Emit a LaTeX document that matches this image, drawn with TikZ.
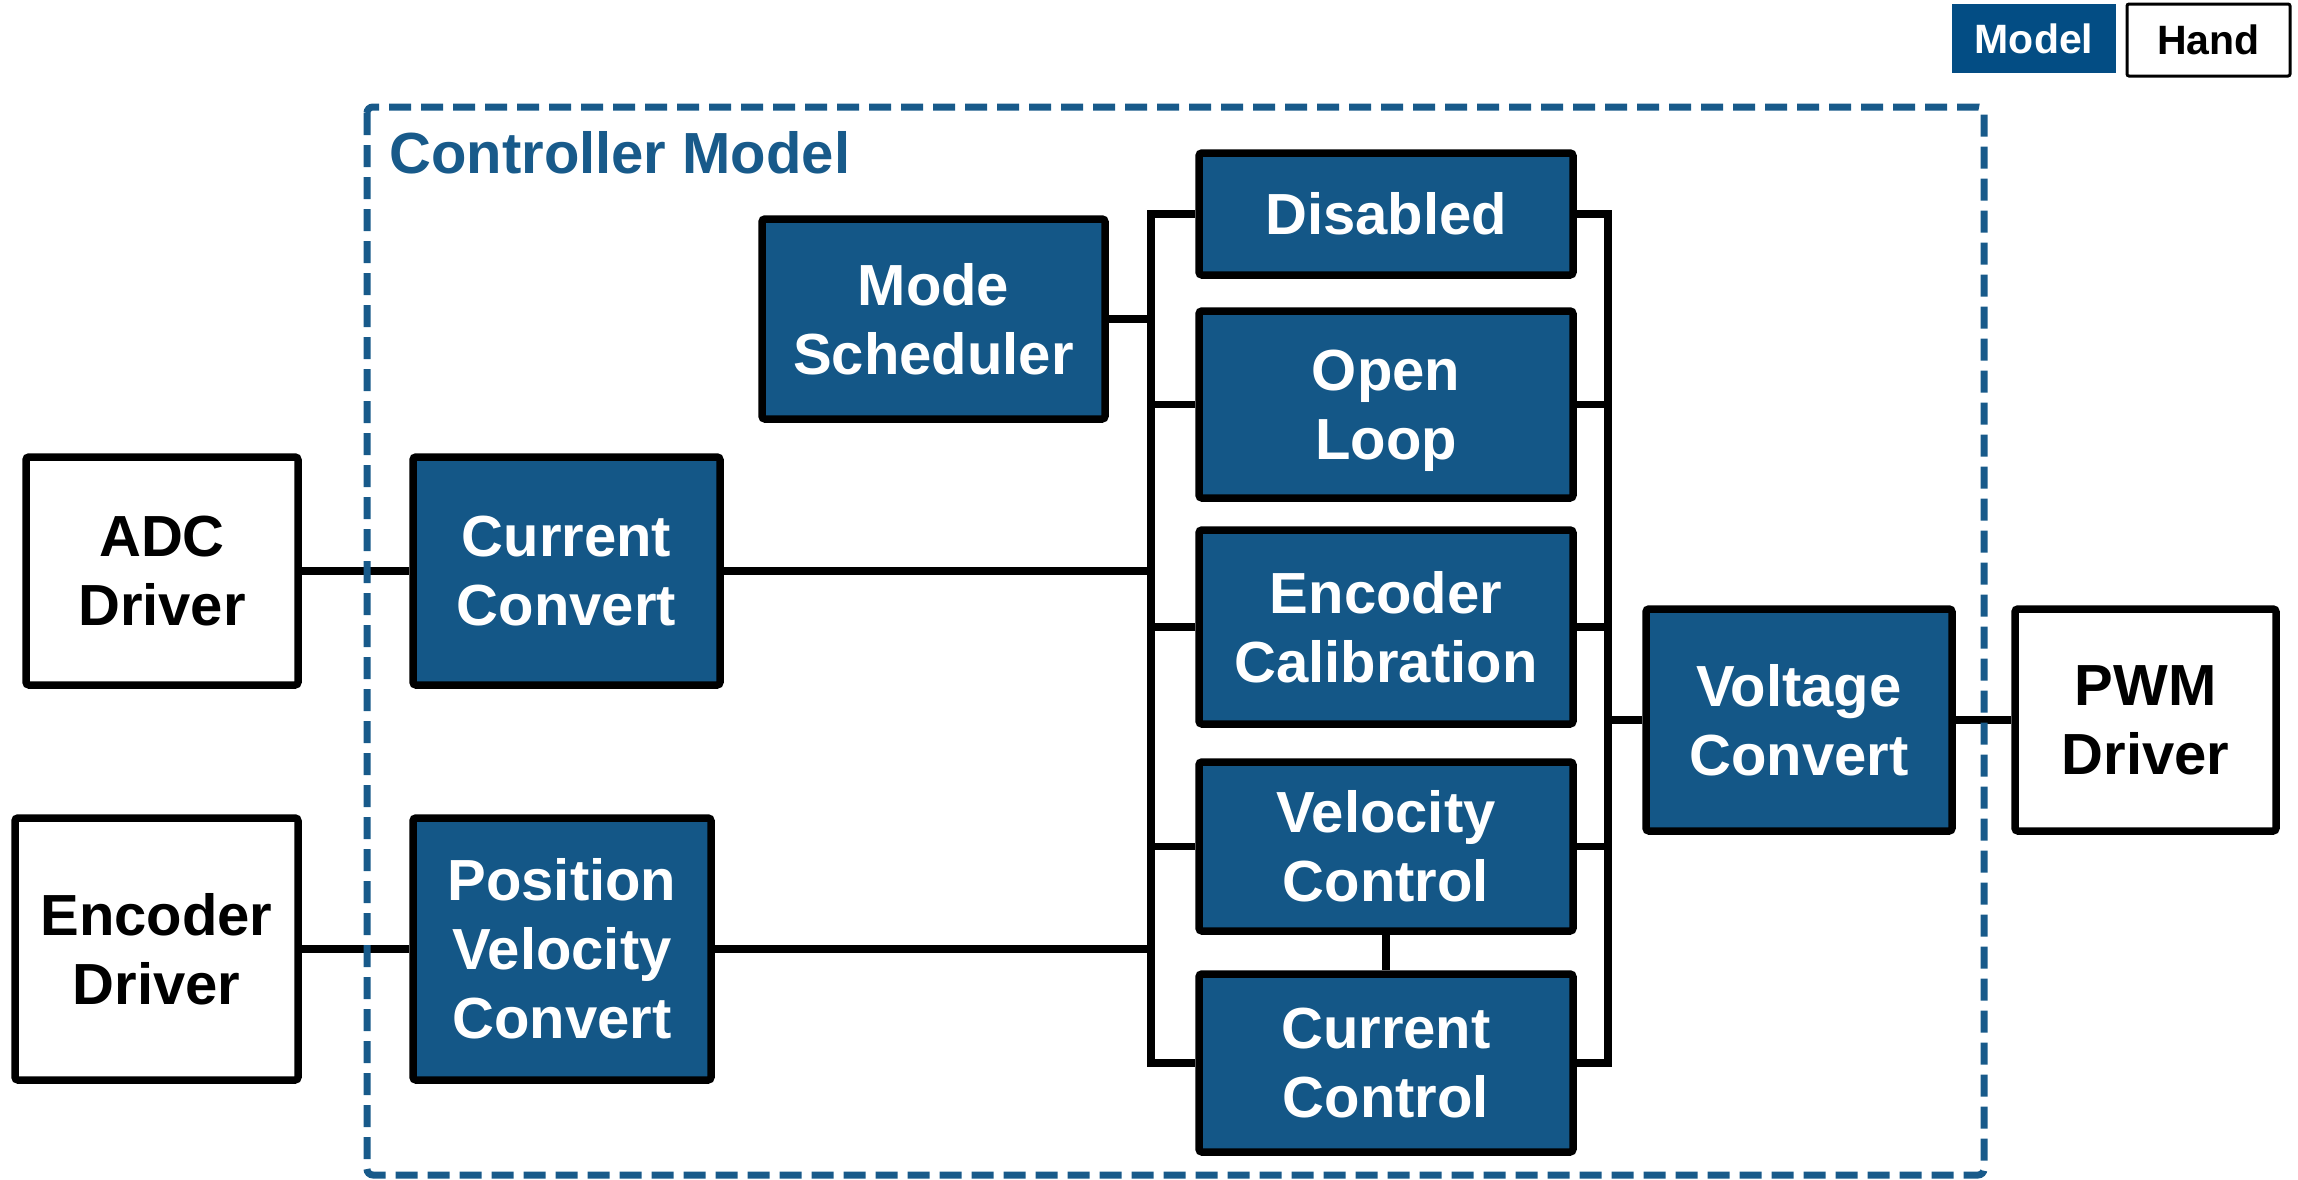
\documentclass[tikz,border=0pt]{standalone}
\usepackage{fontspec}
\setmainfont{Liberation Sans}
\definecolor{boxblue}{RGB}{20,87,135}
\definecolor{frameblue}{RGB}{24,90,138}
\definecolor{legblue}{RGB}{3,77,132}
\tikzset{
  blk/.style={draw=black, line width=3.75pt, fill=boxblue, text=white,
    font=\bfseries\fontsize{29pt}{34.5pt}\selectfont, align=center,
    rounded corners=1.5pt, inner sep=0pt},
  hw/.style={blk, fill=white, text=black},
  wire/.style={draw=black, line width=3.75pt},
  frame/.style={draw=frameblue, line width=3.5pt, dash pattern=on 11pt off 5pt, rounded corners=3pt},
  legfont/.style={font=\bfseries\fontsize{20.5pt}{24pt}\selectfont, inner sep=0pt}
}
\begin{document}
\begin{tikzpicture}[x=0.5pt,y=-0.5pt]
\useasboundingbox (0,0) rectangle (2298,1179);
% legend
\node[legfont, fill=legblue, text=white, minimum width=82pt, minimum height=34.5pt] (lm) at (2034,38.5) {Model};
\node[legfont, draw=black, line width=1.5pt, rounded corners=1pt, fill=white, text=black, minimum width=81.5pt, minimum height=36pt] (lh) at (2208.5,40) {Hand};
% title
\node[anchor=base west, inner sep=0pt, text=frameblue, font=\bfseries\fontsize{29pt}{34.5pt}\selectfont] (title) at (389,173) {Controller Model};
% boxes
\node[hw, minimum width=136pt, minimum height=114pt] (adc) at (162,571) {ADC\\Driver};
\node[blk, minimum width=153.5pt, minimum height=114pt] (ccv) at (566.5,571) {Current\\Convert};
\node[hw, minimum width=141.5pt, minimum height=131pt] (enc) at (156.5,949) {Encoder\\Driver};
\node[blk, minimum width=149pt, minimum height=131pt] (pv) at (562,949) {Position\\Velocity\\Convert};
\node[blk, minimum width=171.5pt, minimum height=100pt] (ms) at (933.5,319) {Mode\\Scheduler};
\node[blk, minimum width=187pt, minimum height=61pt] (dis) at (1386,214) {Disabled};
\node[blk, minimum width=187pt, minimum height=93.5pt] (ol) at (1386,404.5) {Open\\\raisebox{0pt}[\height][0pt]{Loop}};
\node[blk, minimum width=187pt, minimum height=97pt] (ec) at (1386,627) {Encoder\\Calibration};
\node[blk, minimum width=187pt, minimum height=84.5pt] (vctl) at (1386,846.5) {Velocity\\Control};
\node[blk, minimum width=187pt, minimum height=89pt] (cctl) at (1386,1063) {Current\\Control};
\node[blk, minimum width=153pt, minimum height=111pt] (vcv) at (1799,720) {Voltage\\Convert};
\node[hw, minimum width=130.5pt, minimum height=111pt] (pwm) at (2145.5,720) {PWM\\Driver};
% buses
\coordinate (lb) at (1151,640);
\coordinate (rb) at (1608,640);
\draw[wire] (dis.west) -| (lb) |- (cctl.west);
\draw[wire] (dis.east) -| (rb) |- (cctl.east);
\draw[wire] (ol.west) -- (ol.west -| lb);
\draw[wire] (ec.west) -- (ec.west -| lb);
\draw[wire] (vctl.west) -- (vctl.west -| lb);
\draw[wire] (ol.east) -- (ol.east -| rb);
\draw[wire] (ec.east) -- (ec.east -| rb);
\draw[wire] (vctl.east) -- (vctl.east -| rb);
\draw[wire] (vcv.west) -- (vcv.west -| rb);
\draw[wire] (ms.east) -- (ms.east -| lb);
\draw[wire] (ccv.east) -- (ccv.east -| lb);
\draw[wire] (pv.east) -- (pv.east -| lb);
\draw[wire] (adc.east) -- (ccv.west);
\draw[wire] (enc.east) -- (pv.west);
\draw[wire] (vcv.east) -- (pwm.west);
\draw[wire] (vctl.south) -- (cctl.north);
% frame
\draw[frame] (367,107) rectangle (1984,1175);
\end{tikzpicture}
\end{document}
